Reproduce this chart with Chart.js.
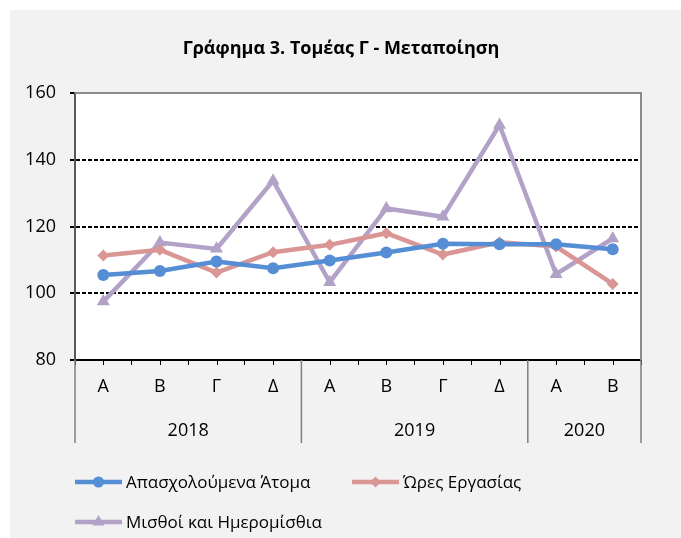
<!DOCTYPE html>
<html>
<head>
<meta charset="utf-8">
<script src="https://cdn.jsdelivr.net/npm/chart.js@4.4.0/dist/chart.umd.min.js"></script>
<style>
    body { margin: 0; background: #ffffff; }
    #wrap { position: absolute; left: 10px; top: 10px; width: 671px; height: 528px; background: #f2f2f2; }
</style>
</head>
<body>
<div id="wrap"><canvas id="myChart" width="671" height="528"></canvas></div>
<script>
// Δεδομένα γραφήματος
const titlos = 'Γράφημα 3. Τομέας Γ - Μεταποίηση';
const quarters = ['Α', 'Β', 'Γ', 'Δ', 'Α', 'Β', 'Γ', 'Δ', 'Α', 'Β'];
const years = ['2018', '2019', '2020'];
const yearSpans = [4, 4, 2];
const apasxoloumena = [105.5, 106.7, 109.5, 107.5, 109.8, 112.2, 114.8, 114.7, 114.7, 113.2];
const oresErgasias = [111.3, 113.0, 106.2, 112.3, 114.5, 118.0, 111.6, 115.3, 114.0, 102.8];
const misthoi = [97.5, 115.2, 113.3, 133.7, 103.3, 125.4, 122.9, 150.4, 105.7, 116.4];
const yMin = 80, yMax = 160, yStep = 20;

const FONT = 'Open Sans';

// plot area λευκό + πλαίσιο, τίτλος, έτη, υπόμνημα
const excelLook = {
    id: 'excelLook',
    beforeDraw(chart) {
        const { ctx, chartArea: a } = chart;
        ctx.save();
        ctx.fillStyle = '#ffffff';
        ctx.fillRect(a.left, a.top, a.right - a.left, a.bottom - a.top);
        ctx.restore();
    },
    beforeDatasetsDraw(chart) {
        const { ctx, chartArea: a } = chart;
        ctx.save();
        ctx.strokeStyle = '#8c8c8c';
        ctx.lineWidth = 2;
        ctx.beginPath();
        ctx.moveTo(a.left, a.top);
        ctx.lineTo(a.right, a.top);
        ctx.lineTo(a.right, a.bottom);
        ctx.stroke();
        ctx.restore();
    },
    afterDraw(chart) {
        const { ctx, chartArea: a } = chart;
        const x = chart.scales.x;
        const half = (x.getPixelForValue(1) - x.getPixelForValue(0)) / 2;
        ctx.save();

        // τίτλος
        ctx.fillStyle = '#000';
        ctx.font = 'bold 18px "' + FONT + '"';
        ctx.textAlign = 'center';
        ctx.textBaseline = 'middle';
        ctx.fillText(titlos, 331, 39);

        // μικρά ticks στο κέντρο κάθε τριμήνου
        ctx.strokeStyle = '#000';
        ctx.lineWidth = 1;
        quarters.forEach((q, i) => {
            const px = Math.round(x.getPixelForValue(i)) + 0.5;
            ctx.beginPath();
            ctx.moveTo(px, a.bottom);
            ctx.lineTo(px, a.bottom + 5);
            ctx.stroke();
        });

        // διαχωριστικά ετών και ετικέτες
        ctx.strokeStyle = '#7f7f7f';
        ctx.lineWidth = 1.5;
        ctx.font = '18px "' + FONT + '"';
        let start = 0;
        const sep = (idx) => {
            const px = x.getPixelForValue(idx) - half;
            ctx.beginPath();
            ctx.moveTo(px, a.bottom);
            ctx.lineTo(px, 433);
            ctx.stroke();
        };
        sep(0);
        years.forEach((yr, k) => {
            const end = start + yearSpans[k];
            sep(end);
            const mid = (x.getPixelForValue(start) + x.getPixelForValue(end - 1)) / 2;
            ctx.fillText(yr, mid, 421);
            start = end;
        });

        // υπόμνημα
        ctx.font = '17px "' + FONT + '"';
        const pos = [[65, 472], [342, 472], [65, 512]];
        chart.data.datasets.forEach((ds, i) => {
            const [lx, ly] = pos[i];
            ctx.strokeStyle = ds.borderColor;
            ctx.fillStyle = ds.borderColor;
            ctx.lineWidth = 4.5;
            ctx.beginPath();
            ctx.moveTo(lx, ly);
            ctx.lineTo(lx + 47, ly);
            ctx.stroke();
            Chart.helpers.drawPoint(ctx, { pointStyle: ds.pointStyle, radius: ds.pointRadius - 0.5, rotation: 0, borderWidth: 0 }, lx + 23.5, ly);
            ctx.fillStyle = '#000';
            ctx.textAlign = 'left';
            ctx.fillText(ds.label, lx + 51, ly + 1);
        });
        ctx.restore();
    }
};

const ctx = document.getElementById('myChart').getContext('2d');
new Chart(ctx, {
    type: 'line',
    data: {
        labels: quarters,
        datasets: [{
            label: 'Απασχολούμενα Άτομα',
            data: apasxoloumena,
            borderColor: '#558ed5',
            backgroundColor: '#558ed5',
            borderWidth: 4.5,
            pointStyle: 'circle',
            pointRadius: 6,
            pointBorderWidth: 0,
            tension: 0
        },
        {
            label: 'Ώρες Εργασίας',
            data: oresErgasias,
            borderColor: '#d99694',
            backgroundColor: '#d99694',
            borderWidth: 4.5,
            pointStyle: 'rectRot',
            pointRadius: 6,
            pointBorderWidth: 0,
            tension: 0
        },
        {
            label: 'Μισθοί και Ημερομίσθια',
            data: misthoi,
            borderColor: '#b3a2c7',
            backgroundColor: '#b3a2c7',
            borderWidth: 4.5,
            pointStyle: 'triangle',
            pointRadius: 7.5,
            pointBorderWidth: 0,
            tension: 0
        }]
    },
    options: {
        responsive: false,
        animation: false,
        layout: { padding: { top: 83, right: 40, bottom: 100, left: 0 } },
        plugins: {
            legend: { display: false },
            title: { display: false },
            tooltip: { enabled: false }
        },
        scales: {
            x: {
                offset: true,
                afterFit: (s) => { s.height = 78; },
                grid: { drawOnChartArea: false, offset: true, tickLength: 5, tickColor: '#000' },
                border: { color: '#000', width: 2 },
                ticks: { color: '#000', padding: 11, font: { family: FONT, size: 18 }, maxRotation: 0 }
            },
            y: {
                min: yMin,
                max: yMax,
                afterFit: (s) => { s.width = 65; },
                ticks: { stepSize: yStep, color: '#000', padding: 14, font: { family: FONT, size: 18 } },
                grid: {
                    color: (c) => (c.tick && (c.tick.value === yMin || c.tick.value === yMax)) ? 'rgba(0,0,0,0)' : '#000',
                    lineWidth: 2,
                    tickColor: '#000',
                    tickLength: 5,
                    tickBorderDash: []
                },
                border: { color: '#595959', width: 2, dash: [4, 2] }
            }
        }
    },
    plugins: [excelLook]
});
</script>
</body>
</html>
